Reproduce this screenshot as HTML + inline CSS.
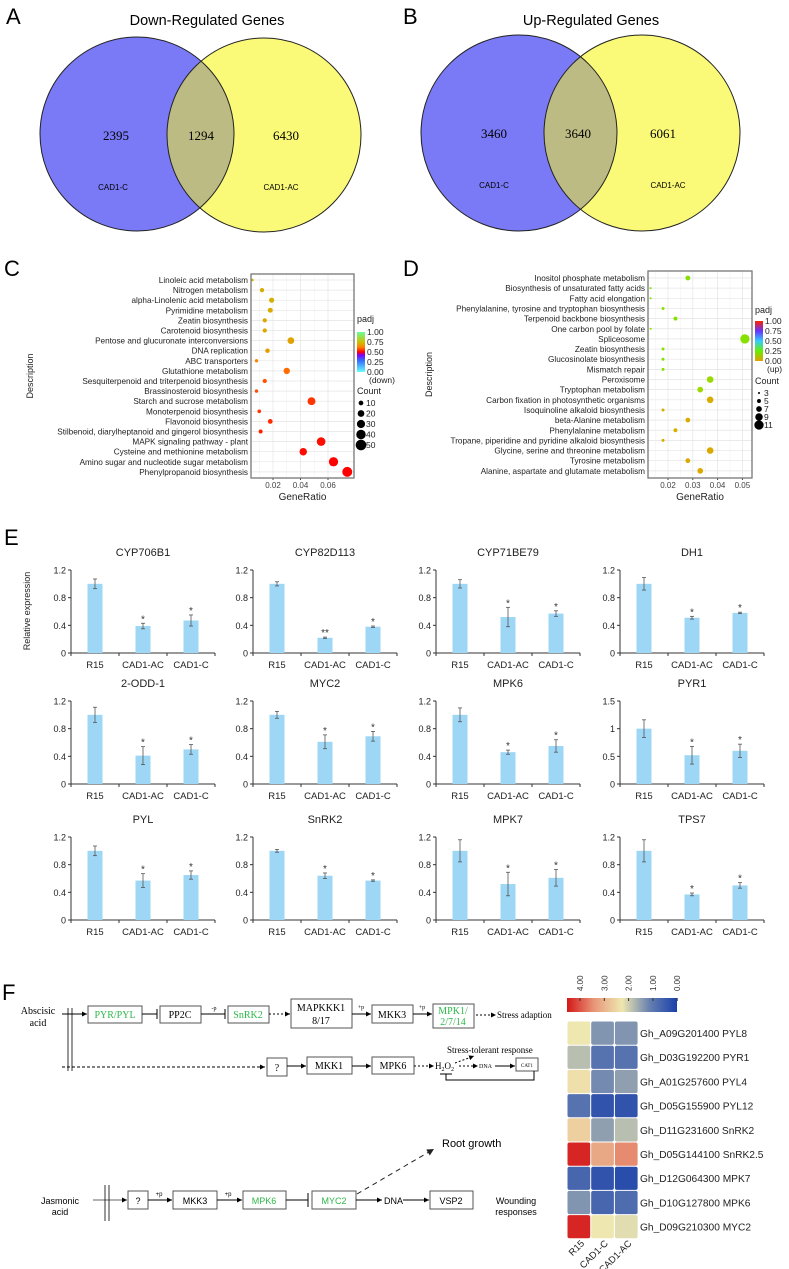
<!DOCTYPE html>
<html><head><meta charset="utf-8">
<style>
html,body{margin:0;padding:0;background:#fff;}
svg{display:block;font-family:"Liberation Sans",sans-serif;}
.serif{font-family:"Liberation Serif",serif;}
</style></head>
<body>
<svg id="fig" width="789" height="1269" viewBox="0 0 789 1269" xmlns="http://www.w3.org/2000/svg">
<defs>
<marker id="ah" viewBox="0 0 6 6" refX="6" refY="3" markerWidth="5" markerHeight="5" orient="auto"><path d="M0,0L6,3L0,6z" fill="#000"/></marker>
<marker id="ahb" viewBox="0 0 6 6" refX="6" refY="3" markerWidth="7" markerHeight="7" orient="auto"><path d="M0,0L6,3L0,6z" fill="#222"/></marker>
<linearGradient id="gC" x1="0" y1="1" x2="0" y2="0">
<stop offset="0" stop-color="#66ffff"/><stop offset="0.3" stop-color="#3366ff"/><stop offset="0.42" stop-color="#8000ff"/><stop offset="0.5" stop-color="#ff0000"/><stop offset="0.62" stop-color="#ff8000"/><stop offset="0.75" stop-color="#ccc000"/><stop offset="1" stop-color="#66ff99"/>
</linearGradient>
<linearGradient id="gD" x1="0" y1="1" x2="0" y2="0">
<stop offset="0" stop-color="#e0a000"/><stop offset="0.25" stop-color="#66ee00"/><stop offset="0.5" stop-color="#33ccff"/><stop offset="0.75" stop-color="#6633ff"/><stop offset="1" stop-color="#ff2200"/>
</linearGradient>
<linearGradient id="gH" x1="0" y1="0" x2="1" y2="0">
<stop offset="0" stop-color="#d41818"/><stop offset="0.25" stop-color="#e8987a"/><stop offset="0.5" stop-color="#efe7b0"/><stop offset="0.75" stop-color="#6680b0"/><stop offset="1" stop-color="#1a40aa"/>
</linearGradient>
<clipPath id="clipA"><circle cx="137" cy="134" r="97"/></clipPath>
<clipPath id="clipB"><circle cx="519" cy="133" r="98"/></clipPath>
</defs>

<text x="6" y="24" font-size="22">A</text>
<text x="403" y="24" font-size="22">B</text>
<text x="4" y="276" font-size="22">C</text>
<text x="403" y="276" font-size="22">D</text>
<text x="4" y="545" font-size="22">E</text>
<text x="2" y="1000" font-size="22">F</text>

<g>
<text x="207" y="25" font-size="14.5" text-anchor="middle">Down-Regulated Genes</text>
<circle cx="137" cy="134" r="97" fill="#7a7af6"/>
<circle cx="264" cy="135" r="97" fill="#fafa78"/>
<circle cx="264" cy="135" r="97" fill="#bdbb84" clip-path="url(#clipA)"/>
<circle cx="137" cy="134" r="97" fill="none" stroke="#222" stroke-width="1"/>
<circle cx="264" cy="135" r="97" fill="none" stroke="#222" stroke-width="1"/>
<g class="serif" font-size="13" text-anchor="middle">
<text x="116" y="140">2395</text>
<text x="201" y="140">1294</text>
<text x="286" y="140">6430</text>
</g>
<text x="113" y="190" font-size="8" text-anchor="middle">CAD1-C</text>
<text x="281" y="190" font-size="8" text-anchor="middle">CAD1-AC</text>
</g>

<g>
<text x="591" y="25" font-size="14.5" text-anchor="middle">Up-Regulated Genes</text>
<circle cx="519" cy="133" r="98" fill="#7a7af6"/>
<circle cx="642" cy="133" r="98" fill="#fafa78"/>
<circle cx="642" cy="133" r="98" fill="#bdbb84" clip-path="url(#clipB)"/>
<circle cx="519" cy="133" r="98" fill="none" stroke="#222" stroke-width="1"/>
<circle cx="642" cy="133" r="98" fill="none" stroke="#222" stroke-width="1"/>
<g class="serif" font-size="13" text-anchor="middle">
<text x="494" y="138">3460</text>
<text x="578" y="138">3640</text>
<text x="663" y="138">6061</text>
</g>
<text x="494" y="188" font-size="8" text-anchor="middle">CAD1-C</text>
<text x="668" y="188" font-size="8" text-anchor="middle">CAD1-AC</text>
</g>

<g id="dotC"></g>
<g id="dotD"></g>
<g id="bars"></g>

<g id="pathway" font-size="10">
<g class="serif">
<text x="38" y="1014" text-anchor="middle" font-size="10">Abscisic</text>
<text x="38" y="1026" text-anchor="middle" font-size="10">acid</text>
<line x1="62" y1="1014" x2="87" y2="1014" stroke="#000" marker-end="url(#ah)"/>
<line x1="68" y1="1008" x2="68" y2="1071" stroke="#000" stroke-width="0.8"/>
<line x1="72" y1="1008" x2="72" y2="1071" stroke="#000" stroke-width="0.8"/>
<rect x="88" y="1006" width="54" height="17" fill="#fff" stroke="#555"/>
<text x="115" y="1018" text-anchor="middle" fill="#2db84a">PYR/PYL</text>
<line x1="142" y1="1014" x2="157" y2="1014" stroke="#000"/><line x1="157" y1="1009" x2="157" y2="1019" stroke="#000"/>
<rect x="160" y="1006" width="41" height="17" fill="#fff" stroke="#555"/>
<text x="180" y="1018" text-anchor="middle">PP2C</text>
<line x1="201" y1="1014" x2="225" y2="1014" stroke="#000"/><line x1="225" y1="1009" x2="225" y2="1019" stroke="#000"/>
<text x="214" y="1010" text-anchor="middle" font-size="6">-p</text>
<rect x="228" y="1006" width="41" height="17" fill="#fff" stroke="#555"/>
<text x="248" y="1018" text-anchor="middle" fill="#2db84a">SnRK2</text>
<line x1="269" y1="1014" x2="290" y2="1014" stroke="#000" stroke-dasharray="2,2" marker-end="url(#ah)"/>
<rect x="291" y="999" width="61" height="29" fill="#fff" stroke="#555"/>
<text x="321" y="1011" text-anchor="middle">MAPKKK1</text><text x="321" y="1024" text-anchor="middle">8/17</text>
<line x1="352" y1="1014" x2="371" y2="1014" stroke="#000" marker-end="url(#ah)"/>
<text x="361" y="1009" text-anchor="middle" font-size="6">+p</text>
<rect x="372" y="1005" width="41" height="18" fill="#fff" stroke="#555"/>
<text x="392" y="1018" text-anchor="middle">MKK3</text>
<line x1="413" y1="1014" x2="432" y2="1014" stroke="#000" marker-end="url(#ah)"/>
<text x="422" y="1009" text-anchor="middle" font-size="6">+p</text>
<rect x="433" y="1004" width="41" height="24" fill="#fff" stroke="#555"/>
<text x="453" y="1014" text-anchor="middle" fill="#2db84a">MPK1/</text><text x="453" y="1025" text-anchor="middle" fill="#2db84a">2/7/14</text>
<line x1="476" y1="1015" x2="496" y2="1015" stroke="#000" stroke-dasharray="2,2" marker-end="url(#ah)"/>
<text x="497" y="1018" font-size="9">Stress adaption</text>

<line x1="62" y1="1067" x2="265" y2="1067" stroke="#000" stroke-dasharray="3,2" marker-end="url(#ah)"/>
<rect x="267" y="1058" width="20" height="18" fill="#fff" stroke="#555"/>
<text x="277" y="1071" text-anchor="middle">?</text>
<line x1="287" y1="1066" x2="306" y2="1066" stroke="#000" marker-end="url(#ah)"/>
<rect x="307" y="1057" width="45" height="17" fill="#fff" stroke="#555"/>
<text x="329" y="1069" text-anchor="middle">MKK1</text>
<line x1="352" y1="1066" x2="371" y2="1066" stroke="#000" marker-end="url(#ah)"/>
<rect x="372" y="1057" width="42" height="17" fill="#fff" stroke="#555"/>
<text x="393" y="1069" text-anchor="middle">MPK6</text>
<line x1="414" y1="1066" x2="434" y2="1066" stroke="#000" stroke-dasharray="2,2" marker-end="url(#ah)"/>
<text x="435" y="1069" font-size="9">H<tspan font-size="6" dy="2">2</tspan><tspan dy="-2">O</tspan><tspan font-size="6" dy="2">2</tspan></text>
<line x1="455" y1="1063" x2="474" y2="1056" stroke="#000" stroke-dasharray="2,2" marker-end="url(#ah)"/>
<text x="447" y="1053" font-size="9">Stress-tolerant response</text>
<line x1="459" y1="1066" x2="478" y2="1066" stroke="#000" stroke-dasharray="2,2" marker-end="url(#ah)"/>
<text x="479" y="1068" font-size="6">DNA</text>
<line x1="495" y1="1066" x2="515" y2="1066" stroke="#000" marker-end="url(#ah)"/>
<rect x="516" y="1058" width="22" height="13" fill="#fff" stroke="#555"/>
<text x="527" y="1067" text-anchor="middle" font-size="5">CAT1</text>
<polyline points="534,1071 534,1080 446,1080 446,1074" fill="none" stroke="#000"/>
<line x1="440" y1="1074" x2="452" y2="1074" stroke="#000"/>
</g>

<text x="442" y="1147" font-size="11">Root growth</text>
<line x1="357" y1="1194" x2="434" y2="1149" stroke="#222" stroke-dasharray="5,4" marker-end="url(#ahb)"/>
<text x="60" y="1204" text-anchor="middle" font-size="9">Jasmonic</text>
<text x="60" y="1215" text-anchor="middle" font-size="9">acid</text>
<line x1="93" y1="1200" x2="127" y2="1200" stroke="#666" marker-end="url(#ah)"/>
<line x1="105" y1="1185" x2="105" y2="1221" stroke="#000" stroke-width="0.8"/>
<line x1="109" y1="1185" x2="109" y2="1221" stroke="#000" stroke-width="0.8"/>
<rect x="128" y="1191" width="20" height="18" fill="#fff" stroke="#555"/>
<text x="138" y="1204" text-anchor="middle" font-size="9">?</text>
<line x1="148" y1="1200" x2="172" y2="1200" stroke="#000" marker-end="url(#ah)"/>
<text x="159" y="1196" text-anchor="middle" font-size="6">+p</text>
<rect x="173" y="1191" width="44" height="18" fill="#fff" stroke="#555"/>
<text x="195" y="1204" text-anchor="middle" font-size="9">MKK3</text>
<line x1="217" y1="1200" x2="242" y2="1200" stroke="#000" marker-end="url(#ah)"/>
<text x="228" y="1196" text-anchor="middle" font-size="6">+p</text>
<rect x="243" y="1191" width="43" height="18" fill="#fff" stroke="#555"/>
<text x="264" y="1204" text-anchor="middle" font-size="9" fill="#2db84a">MPK6</text>
<line x1="286" y1="1200" x2="308" y2="1200" stroke="#000"/><line x1="308" y1="1193" x2="308" y2="1207" stroke="#000"/>
<rect x="312" y="1191" width="44" height="18" fill="#fff" stroke="#555"/>
<text x="334" y="1204" text-anchor="middle" font-size="9" fill="#2db84a">MYC2</text>
<line x1="356" y1="1200" x2="382" y2="1200" stroke="#000" marker-end="url(#ah)"/>
<text x="384" y="1204" font-size="9">DNA</text>
<line x1="403" y1="1200" x2="429" y2="1200" stroke="#000" marker-end="url(#ah)"/>
<rect x="430" y="1191" width="43" height="18" fill="#fff" stroke="#555"/>
<text x="451" y="1204" text-anchor="middle" font-size="9">VSP2</text>
<text x="516" y="1204" text-anchor="middle" font-size="9">Wounding</text>
<text x="516" y="1215" text-anchor="middle" font-size="9">responses</text>
</g>

<g id="heat"></g>
</svg>

<script>
const cTerms = ["Linoleic acid metabolism","Nitrogen metabolism","alpha-Linolenic acid metabolism","Pyrimidine metabolism","Zeatin biosynthesis","Carotenoid biosynthesis","Pentose and glucuronate interconversions","DNA replication","ABC transporters","Glutathione metabolism","Sesquiterpenoid and triterpenoid biosynthesis","Brassinosteroid biosynthesis","Starch and sucrose metabolism","Monoterpenoid biosynthesis","Flavonoid biosynthesis","Stilbenoid, diarylheptanoid and gingerol biosynthesis","MAPK signaling pathway - plant","Cysteine and methionine metabolism","Amino sugar and nucleotide sugar metabolism","Phenylpropanoid biosynthesis"];
const cRatio = [0.005,0.012,0.019,0.018,0.014,0.014,0.033,0.016,0.008,0.030,0.014,0.008,0.048,0.010,0.018,0.011,0.055,0.042,0.064,0.074];
const cCount = [3,8,12,11,8,8,20,9,5,18,8,5,28,6,10,7,33,25,38,44];
const cPadj = [0.74,0.72,0.73,0.72,0.71,0.71,0.70,0.69,0.63,0.60,0.58,0.57,0.55,0.55,0.54,0.53,0.51,0.51,0.50,0.50];
const cTicks = [0.02,0.04,0.06];
const cPadjTicks = ["1.00","0.75","0.50","0.25","0.00"];
const cCountLegend = [10,20,30,40,50];
const dTerms = ["Inositol phosphate metabolism","Biosynthesis of unsaturated fatty acids","Fatty acid elongation","Phenylalanine, tyrosine and tryptophan biosynthesis","Terpenoid backbone biosynthesis","One carbon pool by folate","Spliceosome","Zeatin biosynthesis","Glucosinolate biosynthesis","Mismatch repair","Peroxisome","Tryptophan metabolism","Carbon fixation in photosynthetic organisms","Isoquinoline alkaloid biosynthesis","beta-Alanine metabolism","Phenylalanine metabolism","Tropane, piperidine and pyridine alkaloid biosynthesis","Glycine, serine and threonine metabolism","Tyrosine metabolism","Alanine, aspartate and glutamate metabolism"];
const dRatio = [0.028,0.013,0.013,0.018,0.023,0.013,0.051,0.018,0.018,0.018,0.037,0.033,0.037,0.018,0.028,0.023,0.018,0.037,0.028,0.033];
const dCount = [6,3,3,4,5,3,11,4,4,4,8,7,8,4,6,5,4,8,6,7];
const dPadj = [0.20,0.22,0.21,0.20,0.20,0.19,0.20,0.20,0.20,0.20,0.17,0.17,0.03,0.03,0.03,0.04,0.03,0.02,0.02,0.02];
const dTicks = [0.02,0.03,0.04,0.05];
const dPadjTicks = ["1.00","0.75","0.50","0.25","0.00"];
const dCountLegend = [3,5,7,9,11];
const genes = ["CYP706B1","CYP82D113","CYP71BE79","DH1","2-ODD-1","MYC2","MPK6","PYR1","PYL","SnRK2","MPK7","TPS7"];
const groups = ["R15","CAD1-AC","CAD1-C"];
const exprR15 = [1.0,1.0,1.0,1.0,1.0,1.0,1.0,1.0,1.0,1.0,1.0,1.0];
const exprAC = [0.39,0.22,0.52,0.51,0.41,0.61,0.46,0.52,0.57,0.64,0.52,0.37];
const exprC = [0.47,0.38,0.57,0.58,0.50,0.69,0.55,0.60,0.65,0.57,0.61,0.50];
const errR15 = [0.07,0.03,0.06,0.09,0.11,0.05,0.10,0.16,0.07,0.02,0.16,0.16];
const errAC = [0.04,0.01,0.14,0.02,0.13,0.10,0.03,0.16,0.10,0.04,0.17,0.02];
const errC = [0.08,0.01,0.04,0.01,0.07,0.07,0.09,0.12,0.06,0.01,0.12,0.04];
const sigAC = ["*","**","*","*","*","*","*","*","*","*","*","*"];
const sigC = ["*","*","*","*","*","*","*","*","*","*","*","*"];
const yMaxes = [1.2,1.2,1.2,1.2,1.2,1.2,1.2,1.5,1.2,1.2,1.2,1.2];
const tickSet12 = ["0","0.4","0.8","1.2"];
const tickSet15 = ["0","0.5","1","1.5"];
const hmGenes = ["Gh_A09G201400  PYL8","Gh_D03G192200  PYR1","Gh_A01G257600  PYL4","Gh_D05G155900  PYL12","Gh_D11G231600  SnRK2","Gh_D05G144100  SnRK2.5","Gh_D12G064300  MPK7","Gh_D10G127800 MPK6","Gh_D09G210300 MYC2"];
const hmCols = ["R15","CAD1-C","CAD1-AC"];
const hmR15 = [2.0,1.6,2.1,0.8,2.3,3.9,0.6,1.2,3.9];
const hmC = [1.2,0.8,1.1,0.3,1.3,2.8,0.3,0.6,2.0];
const hmAC = [1.2,0.8,1.3,0.3,1.6,3.1,0.2,0.7,1.9];
const hmScale = ["4.00","3.00","2.00","1.00","0.00"];

const NS="http://www.w3.org/2000/svg";
function mk(parent, tag, attrs, txt){const e=document.createElementNS(NS,tag);for(const k in attrs)e.setAttribute(k,attrs[k]);if(txt!==undefined)e.textContent=txt;parent.appendChild(e);return e;}
function hex(c){return [parseInt(c.slice(1,3),16),parseInt(c.slice(3,5),16),parseInt(c.slice(5,7),16)];}
function interp(stops,v){v=Math.max(0,Math.min(1,v));for(let i=1;i<stops.length;i++){if(v<=stops[i][0]){const a=stops[i-1],b=stops[i];const t=(v-a[0])/(b[0]-a[0]);const A=hex(a[1]),B=hex(b[1]);return "rgb("+A.map((x,j)=>Math.round(x+(B[j]-x)*t)).join(",")+")";}}return stops[stops.length-1][1];}
const cStops=[[0,"#66ffff"],[0.3,"#3366ff"],[0.42,"#8000ff"],[0.5,"#ff0000"],[0.62,"#ff8000"],[0.75,"#ccb800"],[1,"#66ff99"]];
const dStops=[[0,"#e0a000"],[0.1,"#c8c800"],[0.25,"#66ee00"],[0.5,"#33ccff"],[0.75,"#6633ff"],[1,"#ff2200"]];
const hStops=[[0,"#1a40aa"],[0.25,"#6680b0"],[0.5,"#efe7b0"],[0.75,"#e8987a"],[1,"#d41818"]];

function dotPlot(g, cfg){
  const {terms,ratio,count,padj,ticks,x0,x1,y0,y1,rowTop,rowStep,xs,stops,rad,grad,legX,legY,padjTicks,countLeg,dirLabel,legRows} = cfg;
  const px = v => xs[0] + (v - xs[1]) * xs[2];
  const py = i => rowTop + i*rowStep;
  const bg = mk(g,'rect',{x:x0,y:y0,width:x1-x0,height:y1-y0,fill:'#fff'});
  
  
  ticks.forEach((t,i)=>{
    const xx=px(t);
    mk(g,'line',{x1:xx,y1:y0,x2:xx,y2:y1,stroke:'#e4e4e4','stroke-width':0.7});
    const mid = px(t - (ticks[1]-ticks[0])/2);
    if(mid>x0) mk(g,'line',{x1:mid,y1:y0,x2:mid,y2:y1,stroke:'#f0f0f0','stroke-width':0.5});
    const tl = mk(g,'text',{x:xx,y:y1+10,'font-size':8,'text-anchor':'middle',fill:'#444'},t.toFixed(2));
    
    
    mk(g,'line',{x1:xx,y1:y1,x2:xx,y2:y1+2,stroke:'#444'});
  });
  terms.forEach((t,i)=>{
    const y=py(i);
    mk(g,'line',{x1:x0,y1:y,x2:x1,y2:y,stroke:'#e4e4e4','stroke-width':0.7});
    const lb = mk(g,'text',{x:x0-3,y:y+3,'font-size':8.2,'text-anchor':'end',fill:'#222'},t);
    
    
    const d = mk(g,'circle',{cx:px(ratio[i]),cy:y,r:rad(count[i]),fill:interp(stops,padj[i])});
    
    
  });
  mk(g,'rect',{x:x0,y:y0,width:x1-x0,height:y1-y0,fill:'none',stroke:'#777','stroke-width':1.3});
  const xt = mk(g,'text',{x:(x0+x1)/2,y:y1+22,'font-size':10,'text-anchor':'middle',fill:'#222'},'GeneRatio');
  
  
  const yt = mk(g,'text',{x:0,y:0,'font-size':9,'text-anchor':'middle',fill:'#222',transform:`translate(${cfg.descX},${(y0+y1)/2}) rotate(-90)`},'Description');
  
  
  const pl = mk(g,'text',{x:legX,y:legY,'font-size':9,fill:'#222'},'padj');
  
  
  const cb = mk(g,'rect',{x:legX,y:legY+legRows.cbTop,width:8,height:legRows.cbH,fill:`url(#${grad})`});
  
  
  padjTicks.forEach((t,i)=>{
    const yy = legY+legRows.cbTop + i*legRows.cbH/4;
    mk(g,'text',{x:legX+10,y:yy+3,'font-size':8.5,fill:'#222'},t);
  });
  mk(g,'text',{x:legX+12,y:legY+legRows.cbTop+legRows.cbH+11,'font-size':8.5,fill:'#222'},dirLabel);
  const cl = mk(g,'text',{x:legX,y:legY+legRows.countTop,'font-size':9,fill:'#222'},'Count');
  
  
  countLeg.forEach((c,i)=>{
    const yy = legY+legRows.countTop+9+i*legRows.countStep;
    const ld = mk(g,'circle',{cx:legX+4,cy:yy,r:rad(c),fill:'#000'});
    
    
    mk(g,'text',{x:legX+9,y:yy+3,'font-size':8.5,fill:'#222'},String(c));
  });
}

dotPlot(document.getElementById('dotC'),{terms:cTerms,ratio:cRatio,count:cCount,padj:cPadj,ticks:cTicks,
  x0:251,x1:354,y0:274,y1:478,rowTop:280,rowStep:10.1,xs:[273,0.02,1375],stops:cStops,
  rad:c=>0.75*Math.sqrt(c),grad:'gC',legX:357,legY:322,padjTicks:cPadjTicks,countLeg:cCountLegend,dirLabel:'(down)',descX:33,
  legRows:{cbTop:10,cbH:40,countTop:72,countStep:10.5}});
dotPlot(document.getElementById('dotD'),{terms:dTerms,ratio:dRatio,count:dCount,padj:dPadj,ticks:dTicks,
  x0:648,x1:752,y0:271,y1:478,rowTop:278,rowStep:10.15,xs:[668,0.02,2480],stops:dStops,
  rad:c=>Math.max(0.8,0.45*c-0.3),grad:'gD',legX:755,legY:313,padjTicks:dPadjTicks,countLeg:dCountLegend,dirLabel:'(up)',descX:432,
  legRows:{cbTop:8,cbH:40,countTop:71,countStep:8}});

const bg = document.getElementById('bars');
const colX = [71,253,436,620];
const rowZero = [653,784,920];
const rowTitle = [556,687,823];
const plotH = 83, offs=[24,72,120], bw=15;
genes.forEach((gname,gi)=>{
  const c=gi%4, r=Math.floor(gi/4);
  const ax=colX[c], zy=rowZero[r], ymax=yMaxes[gi];
  const sy = v => zy - v/ymax*plotH;
  const g = mk(bg,'g',{});
  
  
  const t = mk(g,'text',{x:ax+72,y:rowTitle[r],'font-size':11,'text-anchor':'middle',fill:'#222'},gname);
  
  
  const labels = ymax===1.5?tickSet15:tickSet12;
  labels.forEach(l=>{
    const yy=sy(parseFloat(l));
    mk(g,'line',{x1:ax-3,y1:yy,x2:ax,y2:yy,stroke:'#333'});
    const tl = mk(g,'text',{x:ax-5,y:yy+3.5,'font-size':9,'text-anchor':'end',fill:'#222'},l);
    
    
  });
  mk(g,'line',{x1:ax,y1:sy(ymax),x2:ax,y2:zy,stroke:'#333'});
  mk(g,'line',{x1:ax,y1:zy,x2:ax+144,y2:zy,stroke:'#333'});
  [0,48,96,144].forEach(o=>mk(g,'line',{x1:ax+o,y1:zy,x2:ax+o,y2:zy+3,stroke:'#333'}));
  const vals=[exprR15[gi],exprAC[gi],exprC[gi]], errs=[errR15[gi],errAC[gi],errC[gi]], sigs=["",sigAC[gi],sigC[gi]];
  vals.forEach((v,k)=>{
    const cx=ax+offs[k];
    const b = mk(g,'rect',{x:cx-bw/2,y:sy(v),width:bw,height:zy-sy(v),fill:'#9dd7f5'});
    
    
    const yt=sy(v+errs[k]), yb=sy(v-errs[k]);
    mk(g,'line',{x1:cx,y1:yt,x2:cx,y2:yb,stroke:'#555','stroke-width':0.8});
    mk(g,'line',{x1:cx-2,y1:yt,x2:cx+2,y2:yt,stroke:'#555','stroke-width':0.8});
    mk(g,'line',{x1:cx-2,y1:yb,x2:cx+2,y2:yb,stroke:'#555','stroke-width':0.8});
    if(sigs[k]){const s=mk(g,'text',{x:cx,y:yt-1,'font-size':10,'text-anchor':'middle',fill:'#333'},sigs[k]);
      
      }
    const xl = mk(g,'text',{x:cx,y:zy+15,'font-size':9.5,'text-anchor':'middle',fill:'#222'},groups[k]);
    
    
  });
});
const ylab = mk(bg,'text',{x:0,y:0,'font-size':9,'text-anchor':'middle',fill:'#222',transform:'translate(30,611) rotate(-90)'},'Relative expression');



const hg = document.getElementById('heat');
const cbar = mk(hg,'rect',{x:567,y:998,width:110,height:14,fill:'url(#gH)'});


hmScale.forEach((s,i)=>{
  const xx=580+i*24.3;
  mk(hg,'line',{x1:xx,y1:998,x2:xx,y2:1001,stroke:'#333'});
  const tl = mk(hg,'text',{x:0,y:0,'font-size':8,fill:'#333','text-anchor':'start',transform:`translate(${xx+3},991) rotate(-90)`},s);
  
  
});
const cellW=23.7, cellH=24.2, hx0=567, hy0=1021;
hmGenes.forEach((gn,i)=>{
  [hmR15[i],hmC[i],hmAC[i]].forEach((v,j)=>{
    const cell = mk(hg,'rect',{x:hx0+j*cellW+0.5,y:hy0+i*cellH+0.5,width:cellW-1,height:cellH-1,rx:2,fill:interp(hStops,v/4)});
    
    
  });
  const lb = mk(hg,'text',{x:640,y:hy0+i*cellH+16,'font-size':10.2,fill:'#222','xml:space':'preserve'},gn);
  
  
});
hmCols.forEach((c,j)=>{
  const xx=hx0+j*cellW+cellW/2+6;
  const tl = mk(hg,'text',{x:0,y:0,'font-size':9.5,fill:'#222','text-anchor':'end',transform:`translate(${xx},1244) rotate(-45)`},c);
  
  
});
</script>
</body></html>
